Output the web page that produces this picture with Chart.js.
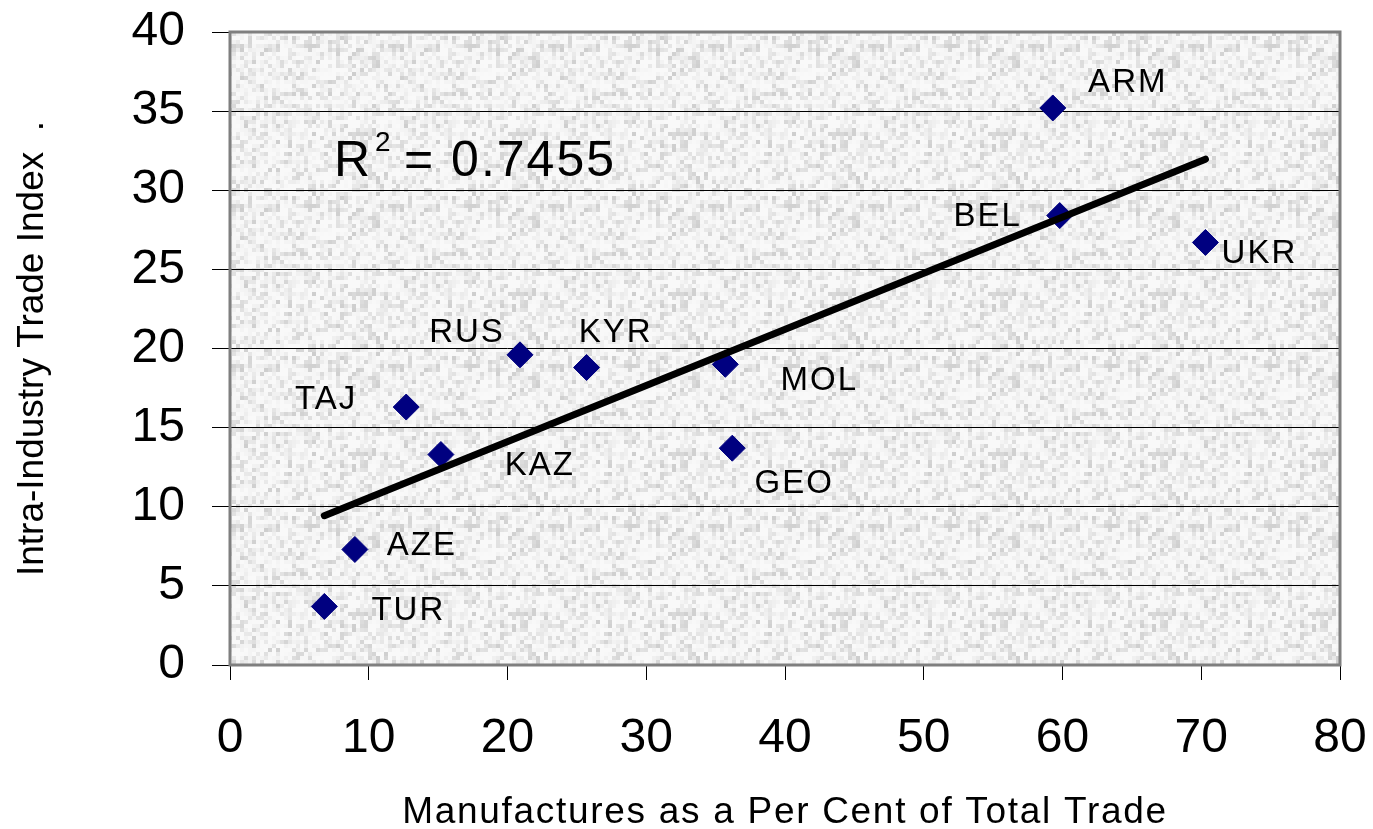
<!DOCTYPE html>
<html>
<head>
<meta charset="utf-8">
<script src="https://cdn.jsdelivr.net/npm/chart.js@4"></script>
<style>
  html, body { margin: 0; background: #fff; }
  #wrap { width: 1373px; height: 829px; }
</style>
</head>
<body>
<div id="wrap"><canvas id="c"></canvas></div>
<script>
// data
const countries  = ['ARM', 'BEL', 'UKR', 'RUS', 'KYR', 'MOL', 'TAJ', 'KAZ', 'GEO', 'AZE', 'TUR'];
const manufShare = [59.3, 59.8, 70.3, 20.9, 25.7, 35.7, 12.7, 15.2, 36.2, 9.0, 6.8];
const iitIndex   = [35.2, 28.4, 26.7, 19.6, 18.8, 19.0, 16.3, 13.3, 13.7, 7.3, 3.7];
const rSquared   = '0.7455';

const xAxisRange = [0, 80, 10];   // min, max, step
const yAxisRange = [0, 40, 5];
const xTitle = 'Manufactures as a Per Cent of Total Trade';
const yTitle = 'Intra-Industry Trade Index  .';

// label placement (pixels from the marker)
const labelOffset = {
    ARM: [75, -28], BEL: [-72, -2], UKR: [54, 9], RUS: [-53, -25], KYR: [29, -37],
    MOL: [94, 14], TAJ: [-80, -10], KAZ: [99, 8], GEO: [62, 33], AZE: [67, -6], TUR: [84, 2]
};

const FONT = '"Liberation Sans", Arial, sans-serif';

// least squares trend line, like the Excel trendline
function trendLine(xs, ys) {
    const n = xs.length;
    const mx = xs.reduce((a, b) => a + b, 0) / n;
    const my = ys.reduce((a, b) => a + b, 0) / n;
    let sxy = 0, sxx = 0;
    xs.forEach((x, i) => { sxy += (x - mx) * (ys[i] - my); sxx += (x - mx) * (x - mx); });
    const slope = sxy / sxx, icpt = my - slope * mx;
    const x0 = Math.min(...xs), x1 = Math.max(...xs);
    return [{ x: x0, y: icpt + slope * x0 }, { x: x1, y: icpt + slope * x1 }];
}

// grey "granite" fill for the plot area
function makeGranite() {
    const c = document.createElement('canvas');
    c.width = c.height = 160;
    const g = c.getContext('2d');
    let s = 987654321;
    const next = () => (s = (Math.imul(s, 1664525) + 1013904223) >>> 0) / 4294967296;
    for (let y = 0; y < 160; y += 4) {
        for (let x = 0; x < 160; x += 4) {
            const r = next();
            const v = Math.round(249 - 44 * r * r * r);
            g.fillStyle = `rgb(${v},${v},${v})`;
            g.fillRect(x, y, 4, 4);
        }
    }
    return c;
}
const granite = makeGranite();

const decor = {
    id: 'decor',
    beforeDraw(chart) {
        const { ctx, chartArea: a } = chart;
        ctx.save();
        ctx.fillStyle = ctx.createPattern(granite, 'repeat');
        ctx.fillRect(a.left, a.top, a.right - a.left, a.bottom - a.top);
        ctx.restore();
    },
    afterDraw(chart) {
        const { ctx, chartArea: a, scales } = chart;
        ctx.save();
        // frame
        ctx.strokeStyle = '#7f7f7f';
        ctx.lineWidth = 3;
        ctx.strokeRect(a.left, a.top, a.right - a.left, a.bottom - a.top);

        ctx.fillStyle = '#000';
        // point labels
        ctx.font = `33px ${FONT}`;
        ctx.letterSpacing = '2px';
        ctx.textAlign = 'center';
        ctx.textBaseline = 'alphabetic';
        countries.forEach((name, i) => {
            const px = scales.x.getPixelForValue(manufShare[i]);
            const py = scales.y.getPixelForValue(iitIndex[i]);
            const [dx, dy] = labelOffset[name];
            ctx.fillText(name, px + dx, py + dy + 12);
        });

        // R squared
        ctx.textAlign = 'left';
        ctx.font = `50px ${FONT}`;
        ctx.fillText('R', 334, 176);
        ctx.font = `28px ${FONT}`;
        ctx.fillText('2', 375, 151);
        ctx.font = `50px ${FONT}`;
        ctx.fillText('= ' + rSquared, 404, 176);

        // axis titles
        ctx.textAlign = 'center';
        ctx.font = `37px ${FONT}`;
        ctx.letterSpacing = '1.7px';
        ctx.fillText(xTitle, (a.left + a.right) / 2, 823);
        ctx.letterSpacing = '0px';
        ctx.translate(43, (a.top + a.bottom) / 2);
        ctx.rotate(-Math.PI / 2);
        ctx.fillText(yTitle, 0, 0);
        ctx.restore();
    }
};

const ctx = document.getElementById('c');
new Chart(ctx, {
    type: 'scatter',
    data: {
        datasets: [
            {
                label: 'Trend',
                data: trendLine(manufShare, iitIndex),
                showLine: true,
                borderColor: '#000',
                borderWidth: 7,
                borderCapStyle: 'round',
                pointRadius: 0,
                order: 0
            },
            {
                label: 'Countries',
                data: manufShare.map((x, i) => ({ x, y: iitIndex[i] })),
                pointStyle: 'rectRot',
                pointRadius: 13,
                pointBackgroundColor: '#000080',
                pointBorderColor: '#000080',
                pointBorderWidth: 1,
                order: 1
            }
        ]
    },
    options: {
        responsive: true,
        maintainAspectRatio: false,
        animation: false,
        events: [],
        layout: { padding: { top: 32, right: 33, left: 0, bottom: 0 } },
        plugins: { legend: { display: false }, tooltip: { enabled: false } },
        scales: {
            x: {
                min: xAxisRange[0], max: xAxisRange[1],
                afterFit: s => { s.height = 164; s.paddingLeft = 0; s.paddingRight = 0; },
                border: { display: false },
                grid: { drawOnChartArea: false, tickLength: 15, tickColor: '#000', lineWidth: 1 },
                ticks: { stepSize: xAxisRange[2], color: '#000', padding: 30, maxRotation: 0,
                         font: { family: FONT, size: 48 } }
            },
            y: {
                min: yAxisRange[0], max: yAxisRange[1],
                afterFit: s => { s.width = 230; s.paddingTop = 0; s.paddingBottom = 0; },
                border: { display: false },
                grid: { color: '#000', lineWidth: 1, tickLength: 18, tickColor: '#000' },
                ticks: { stepSize: yAxisRange[2], color: '#000', padding: 27,
                         font: { family: FONT, size: 48 } }
            }
        }
    },
    plugins: [decor]
});
</script>
</body>
</html>
